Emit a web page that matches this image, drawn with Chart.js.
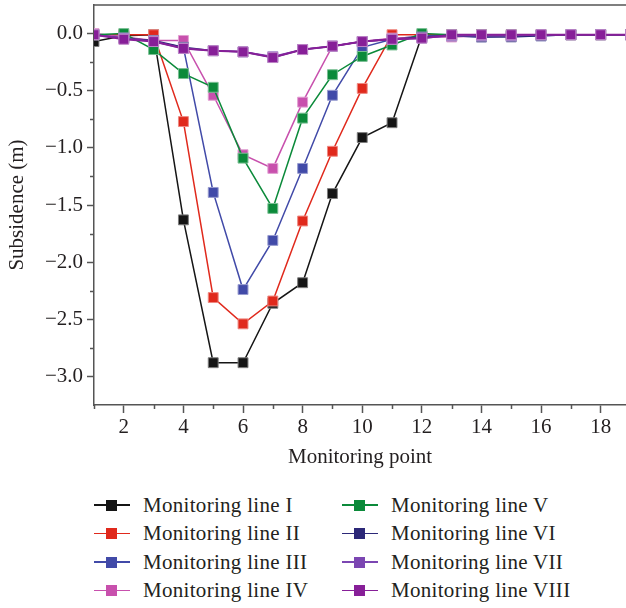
<!DOCTYPE html>
<html>
<head>
<meta charset="utf-8">
<script src="https://cdn.jsdelivr.net/npm/chart.js@4.4.0/dist/chart.umd.min.js"></script>
<style>
    body { margin: 0; background: #fff; }
    #wrap { position: relative; width: 626px; height: 608px; overflow: hidden; }
    #chart { position: absolute; left: 0; top: 0; }
    #legend {
        position: absolute; left: 94px; top: 491px;
        display: grid; grid-auto-flow: column;
        grid-template-columns: 248px 248px; grid-template-rows: repeat(4, 28.5px);
        font-family: 'Liberation Serif', 'DejaVu Serif', serif; font-size: 21px; letter-spacing: 0.3px; color: #231f20;
    }
    .item { display: flex; align-items: center; }
    .sample { position: relative; width: 36px; height: 14px; margin-right: 13px; }
    .sample .ln { position: absolute; left: 0; right: 0; top: 6px; height: 1.6px; }
    .sample .sq { position: absolute; left: 12px; top: 1.5px; width: 11px; height: 11px; }
</style>
</head>
<body>
<div id="wrap">
    <canvas id="chart" width="626" height="475"></canvas>
    <div id="legend"></div>
</div>
<script>
// Dados (pontos de monitoramento 1..19)
const points = [1, 2, 3, 4, 5, 6, 7, 8, 9, 10, 11, 12, 13, 14, 15, 16, 17, 18, 19];
const lineI    = [-0.07, -0.02, -0.01, -1.63, -2.88, -2.88, -2.36, -2.18, -1.40, -0.91, -0.78, -0.02, -0.02, -0.02, -0.02, -0.01, -0.01, -0.01, -0.01];
const lineII   = [-0.01, -0.01, -0.01, -0.77, -2.31, -2.54, -2.34, -1.64, -1.03, -0.48, -0.01, -0.01, -0.01, -0.01, -0.01, -0.01, -0.01, -0.01, -0.01];
const lineIII  = [-0.01, -0.03, -0.07, -0.12, -1.39, -2.24, -1.81, -1.18, -0.54, -0.12, -0.05, -0.02, -0.02, -0.03, -0.02, -0.02, -0.01, -0.01, -0.01];
const lineIV   = [0.00, -0.03, -0.06, -0.06, -0.54, -1.06, -1.18, -0.60, -0.11, -0.07, -0.04, -0.03, -0.03, -0.02, -0.02, -0.01, -0.01, -0.01, -0.01];
const lineV    = [-0.01, 0.00, -0.14, -0.35, -0.47, -1.09, -1.53, -0.74, -0.36, -0.20, -0.10, 0.00, -0.01, -0.01, -0.01, -0.01, -0.01, -0.01, -0.01];
const lineVI   = [-0.01, -0.04, -0.06, -0.12, -0.15, -0.16, -0.21, -0.14, -0.11, -0.07, -0.05, -0.03, -0.02, -0.03, -0.03, -0.02, -0.01, -0.01, -0.01];
const lineVII  = [-0.01, -0.04, -0.07, -0.13, -0.15, -0.16, -0.20, -0.14, -0.11, -0.07, -0.05, -0.04, -0.02, -0.02, -0.02, -0.01, -0.01, -0.01, -0.01];
const lineVIII = [-0.01, -0.05, -0.07, -0.13, -0.15, -0.16, -0.21, -0.14, -0.11, -0.07, -0.05, -0.04, -0.01, -0.01, -0.01, -0.01, -0.01, -0.01, -0.01];

const seriesLabels = ['Monitoring line I', 'Monitoring line II', 'Monitoring line III', 'Monitoring line IV',
    'Monitoring line V', 'Monitoring line VI', 'Monitoring line VII', 'Monitoring line VIII'];
const seriesValues = [lineI, lineII, lineIII, lineIV, lineV, lineVI, lineVII, lineVIII];
const seriesColors = ['#151515', '#e0291c', '#414aa8', '#c850ad', '#0b8a3a', '#2c2878', '#7b46b2', '#871f98'];

// Ticks
const xTicks = [2, 4, 6, 8, 10, 12, 14, 16, 18];
const xMinorTicks = [1, 3, 5, 7, 9, 11, 13, 15, 17];
const yTicks = [0, -0.5, -1.0, -1.5, -2.0, -2.5, -3.0];
const yMinorTicks = [-0.25, -0.75, -1.25, -1.75, -2.25, -2.75];

const axisColor = '#555';
const textColor = '#231f20';
const fontFamily = "'Liberation Serif', 'DejaVu Serif', serif";

// cor clara para a borda dos marcadores
function lighten(hex, amt) {
    const n = parseInt(hex.slice(1), 16);
    const r = (n >> 16) & 255, g = (n >> 8) & 255, b = n & 255;
    const f = c => Math.round(c + (255 - c) * amt);
    return 'rgb(' + f(r) + ',' + f(g) + ',' + f(b) + ')';
}

const datasets = seriesValues.map((vals, i) => ({
    label: seriesLabels[i],
    data: vals.map((v, j) => ({ x: points[j], y: v })),
    borderColor: seriesColors[i],
    backgroundColor: seriesColors[i],
    pointBackgroundColor: seriesColors[i],
    pointBorderColor: lighten(seriesColors[i], 0.45),
    pointBorderWidth: 1,
    pointStyle: 'rect',
    pointRadius: 7,
    borderWidth: i === 7 ? 2 : 1.5,
    tension: 0,
    order: seriesValues.length - i   // última série desenhada por cima
}));

// Ticks menores e linha superior
const minorTicks = {
    id: 'minorTicks',
    beforeDatasetsDraw(chart) {
        const { ctx, chartArea, scales: { x, y } } = chart;
        ctx.save();
        ctx.strokeStyle = axisColor;
        ctx.lineWidth = 1.5;
        ctx.beginPath();
        xMinorTicks.forEach(v => {
            const px = Math.round(x.getPixelForValue(v)) + 0.5;
            ctx.moveTo(px, chartArea.bottom);
            ctx.lineTo(px, chartArea.bottom + 4);
        });
        yMinorTicks.forEach(v => {
            const py = Math.round(y.getPixelForValue(v)) + 0.5;
            ctx.moveTo(chartArea.left, py);
            ctx.lineTo(chartArea.left - 4, py);
        });
        ctx.moveTo(chartArea.left, chartArea.top);
        ctx.lineTo(chartArea.right, chartArea.top);
        ctx.stroke();
        ctx.restore();
    }
};

const ctx = document.getElementById('chart').getContext('2d');
const chart = new Chart(ctx, {
    type: 'line',
    data: { datasets: datasets },
    options: {
        responsive: false,
        devicePixelRatio: 1,
        animation: false,
        layout: { autoPadding: false, padding: { top: 5, right: 0, left: 0, bottom: 0 } },
        plugins: {
            legend: { display: false },
            tooltip: { enabled: false }
        },
        scales: {
            x: {
                type: 'linear',
                min: 1,
                max: 18.85,
                afterBuildTicks: s => { s.ticks = xTicks.map(v => ({ value: v })); },
                afterFit: s => { s.height = 70; s.paddingLeft = 0; s.paddingRight = 0; },
                border: { color: axisColor, width: 1.5 },
                grid: { drawOnChartArea: false, drawTicks: true, tickLength: 8, tickColor: axisColor, tickWidth: 1.5 },
                ticks: { color: textColor, padding: 2, font: { family: fontFamily, size: 21 }, maxRotation: 0 },
                title: { display: true, text: 'Monitoring point', color: textColor, font: { family: fontFamily, size: 21 }, padding: { top: 0, bottom: 5 } }
            },
            y: {
                type: 'linear',
                min: -3.25,
                max: 0.25,
                afterBuildTicks: s => { s.ticks = yTicks.map(v => ({ value: v })); },
                afterFit: s => { s.width = 94; s.paddingTop = 0; s.paddingBottom = 0; },
                border: { color: axisColor, width: 1.5 },
                grid: { drawOnChartArea: false, drawTicks: true, tickLength: 7, tickColor: axisColor, tickWidth: 1.5 },
                ticks: {
                    color: textColor, padding: 4, font: { family: fontFamily, size: 21 },
                    callback: v => (v < 0 ? '\u2212' : '') + Math.abs(v).toFixed(1)
                },
                title: { display: true, text: 'Subsidence (m)', color: textColor, font: { family: fontFamily, size: 21 }, padding: { top: 5, bottom: 0 } }
            }
        }
    },
    plugins: [minorTicks]
});

// Legenda em HTML (duas colunas, como na figura)
const legend = document.getElementById('legend');
seriesLabels.forEach((label, i) => {
    const item = document.createElement('div');
    item.className = 'item';
    item.innerHTML = '<span class="sample"><span class="ln" style="background:' + seriesColors[i] + '"></span>' +
        '<span class="sq" style="background:' + seriesColors[i] + '"></span></span><span>' + label + '</span>';
    legend.appendChild(item);
});
</script>
</body>
</html>
